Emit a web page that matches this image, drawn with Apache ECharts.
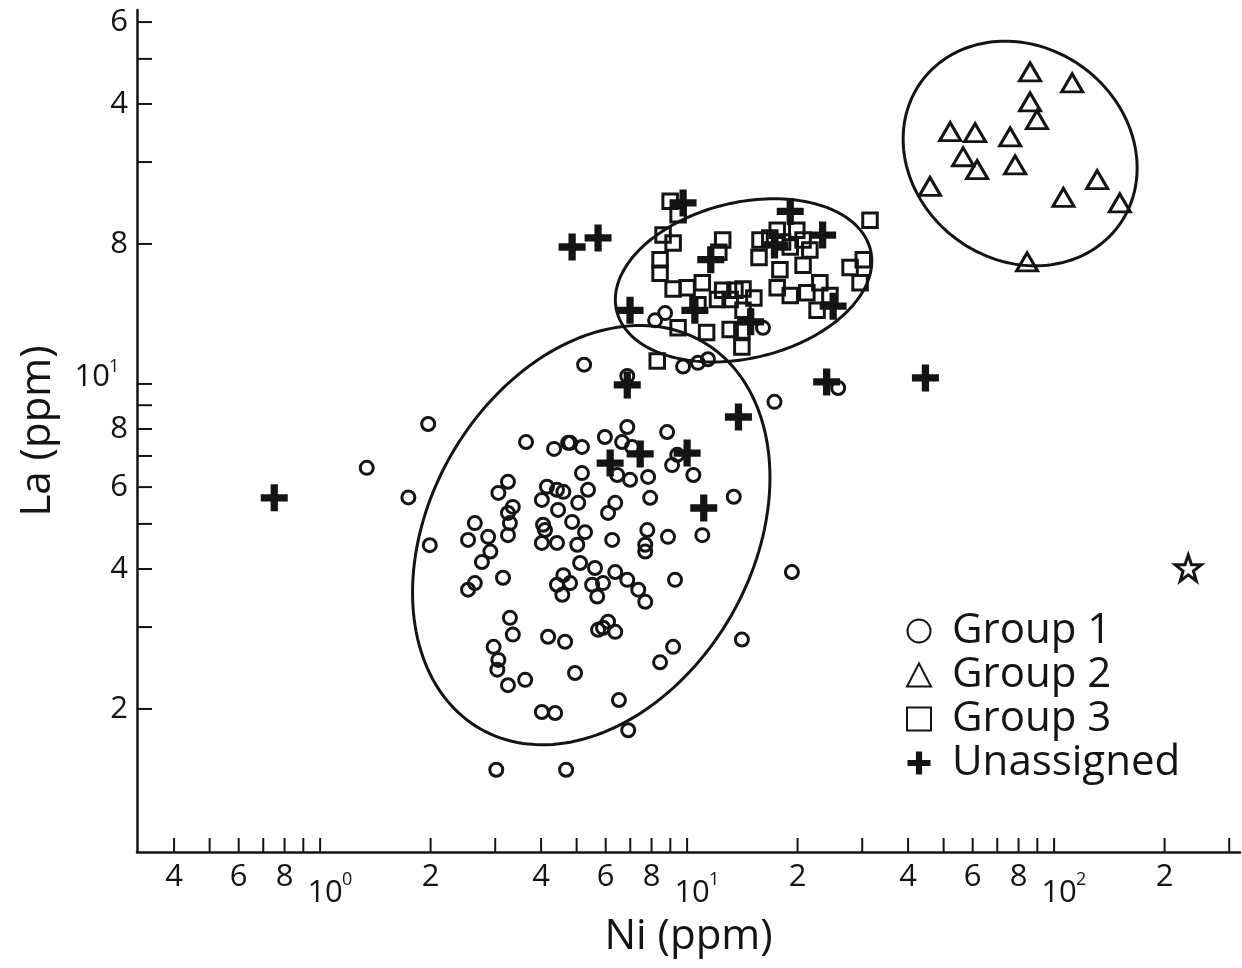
<!DOCTYPE html>
<html>
<head>
<meta charset="utf-8">
<title>La vs Ni</title>
<script src="https://cdn.jsdelivr.net/npm/echarts@6/dist/echarts.min.js"></script>
<style>
  html, body { margin: 0; padding: 0; background: #fff; }
  #chart { width: 1242px; height: 968px; }
</style>
</head>
<body>
<div id="chart"></div>
<script>
// ---- data (Ni ppm, La ppm) ----
const group1Points = [
  [1.97,8.2],[1.34,6.6],[1.74,5.7],[1.99,4.5],[3.02,1.48],[4.68,1.48],[6.91,1.80],[19.3,3.94],
  [14.1,2.82],[17.3,9.15],[25.8,9.8],[13.4,5.72],[5.24,11.0],[6.87,10.4],[8.18,13.7],[8.71,14.2],
  [16.1,13.2],[9.75,10.9],[10.7,11.1],[11.4,11.3],
  [3.64,7.5],[4.34,7.25],[4.74,7.47],[3.25,6.16],[3.06,5.83],[4.15,6.01],[4.42,5.92],[4.60,5.86],
  [4.02,5.63],[3.35,5.44],[3.25,5.28],[3.29,5.02],[3.25,4.73],[4.45,5.36],[2.64,5.02],[2.53,4.62],
  [2.87,4.69],[2.91,4.36],[4.05,4.98],[4.10,4.85],[4.02,4.55],[4.42,4.55],[4.80,7.47],[5.17,7.32],
  [5.97,7.69],[6.65,7.50],[6.87,8.08],[7.08,7.32],[8.82,7.88],[9.40,7.04],[9.10,6.69],[10.4,6.37],
  [6.45,6.37],[6.99,6.22],[7.83,6.31],[5.17,6.43],[5.37,5.92],[5.05,5.55],[7.93,5.69],[6.37,5.55],
  [6.09,5.28],[4.86,5.05],[5.27,4.80],[6.25,4.62],[7.79,4.85],[7.69,4.51],[7.69,4.36],[8.87,4.69],
  [11.0,4.73],[5.02,4.51],[2.76,4.14],[3.15,3.83],[2.64,3.73],[2.53,3.61],[5.11,4.12],[5.61,4.02],
  [4.60,3.88],[4.42,3.70],[4.80,3.73],[4.57,3.52],[5.51,3.70],[5.69,3.49],[3.29,3.14],[3.35,2.89],
  [4.18,2.86],[4.65,2.79],[2.97,2.72],[3.06,2.55],[3.04,2.43],[3.25,2.25],[3.62,2.31],[4.95,2.39],
  [4.02,1.97],[4.37,1.96],[5.72,2.96],[6.37,3.94],[6.87,3.79],[7.36,3.61],[7.69,3.40],[5.90,3.73],
  [9.27,3.79],[5.90,2.99],[6.37,2.93],[6.09,3.08],[9.16,2.72],[8.44,2.52],[6.52,2.09]
];
const group2Points = [
  [86.0,46.9],[112,44.4],[86.0,40.4],[89.8,37.0],[52.1,34.9],[60.9,34.7],[75.9,34.0],[56.5,30.8],
  [61.7,28.9],[78.3,29.6],[45.9,26.6],[131,27.5],[106,25.2],[151,24.5],[84.4,18.3]
];
const group3Points = [
  [8.99,24.7],[9.45,23.1],[31.5,22.5],[8.60,20.9],[9.16,20.1],[12.5,20.4],[12.2,19.2],[8.44,18.5],
  [8.44,17.3],[9.16,16.0],[10.0,16.1],[11.0,16.5],[10.7,14.8],[12.5,15.9],[13.5,15.9],[14.2,16.0],
  [15.2,15.3],[12.1,15.2],[13.1,15.2],[14.2,14.4],[11.3,12.9],[13.1,13.1],[14.1,13.0],[14.1,12.0],
  [9.45,13.2],[8.29,11.2],[15.8,20.4],[16.8,20.6],[17.6,21.4],[18.2,20.2],[19.1,19.7],[19.9,21.4],
  [20.7,20.4],[21.6,19.4],[15.7,18.7],[17.9,17.6],[20.7,18.0],[17.6,16.1],[19.1,15.5],[21.2,15.7],
  [23.0,16.5],[24.5,15.5],[22.6,14.4],[27.8,17.8],[30.2,18.5],[29.6,16.5]
];
const unassignedPoints = [
  [0.75,5.69],[4.86,19.7],[5.72,20.6],[9.75,24.5],[6.99,14.4],[11.6,18.5],[10.5,14.4],[14.9,13.6],
  [19.1,23.5],[23.4,20.9],[25.0,14.7],[24.0,10.1],[44.6,10.3],[6.87,9.95],[13.8,8.49],[7.45,7.07],
  [10.0,7.1],[6.17,6.76],[11.1,5.41],[17.3,19.9]
];
const starPoint = [[232,4.02]];

// group ellipses: centre, end of the major semi-axis, minor/major ratio
const ellipseCenters   = [[5.48,4.73],[14.25,16.7],[80.8,31.3]];
const ellipseMajorEnds = [[11.0,12.34],[31.6,19.4],[150,21.9]];
const ellipseRatios    = [0.723,0.597,0.873];

// axis ticks and their labels ('10^n' = power of ten)
const xTickValues = [0.4,0.5,0.6,0.7,0.8,0.9,1,2,3,4,5,6,7,8,9,10,20,30,40,50,60,70,80,90,100,200,300];
const xTickLabels = ['4','','6','','8','','10^0','2','','4','','6','','8','','10^1','2','','4','','6','','8','','10^2','2',''];
const yTickValues = [2,3,4,5,6,7,8,9,10,20,30,40,50,60];
const yTickLabels = ['2','','4','','6','','8','','10^1','8','','4','','6'];

const X_MIN = 0.317, X_MAX = 321, Y_MIN = 0.985, Y_MAX = 63.7;
const FONT = '"Open Sans", "Liberation Sans", sans-serif';
const INK = '#141414';
const TICK_FS = 31, SUP_FS = 18;

const PLUS = 'path://M9.5,0H16.5V9.5H26V16.5H16.5V26H9.5V16.5H0V9.5H9.5Z';
const STAR = 'path://M12,0L14.9,8.3L23.6,8.3L16.6,13.5L19.2,21.9L12,16.8L4.8,21.9L7.4,13.5L0.4,8.3L9.1,8.3Z';
const HOLLOW = 'rgba(255,255,255,0)';

function textEl(x, y, text, fs, align) {
  return { type: 'text', x: x, y: y, silent: true,
    style: { text: text, fill: INK, fontSize: fs, fontFamily: FONT, align: align, verticalAlign: 'middle' } };
}

function xTickItem(params, api) {
  const p = api.coord([api.value(0), api.value(1)]);
  const lab = xTickLabels[api.value(2)];
  const kids = [{ type: 'line', silent: true,
    shape: { x1: p[0], y1: p[1], x2: p[0], y2: p[1] - 14 },
    style: { stroke: INK, lineWidth: 2 } }];
  if (lab.indexOf('^') >= 0) {
    const parts = lab.split('^');
    kids.push(textEl(p[0] + 5, p[1] + 41, parts[0], TICK_FS, 'center'));
    kids.push(textEl(p[0] + 22, p[1] + 28, parts[1], SUP_FS, 'left'));
  } else if (lab) {
    kids.push(textEl(p[0], p[1] + 25, lab, TICK_FS, 'center'));
  }
  return { type: 'group', children: kids };
}

function yTickItem(params, api) {
  const p = api.coord([api.value(0), api.value(1)]);
  const lab = yTickLabels[api.value(2)];
  const kids = [{ type: 'line', silent: true,
    shape: { x1: p[0], y1: p[1], x2: p[0] + 15, y2: p[1] },
    style: { stroke: INK, lineWidth: 2 } }];
  if (lab.indexOf('^') >= 0) {
    const parts = lab.split('^');
    kids.push(textEl(p[0] - 27, p[1] - 7, parts[0], TICK_FS, 'right'));
    kids.push(textEl(p[0] - 28, p[1] - 17, parts[1], SUP_FS, 'left'));
  } else if (lab) {
    kids.push(textEl(p[0] - 9, p[1], lab, TICK_FS, 'right'));
  }
  return { type: 'group', children: kids };
}

function ellipseItem(params, api) {
  const c = api.coord([api.value(0), api.value(1)]);
  const e = api.coord([api.value(2), api.value(3)]);
  const r = api.value(4);
  const ax = e[0] - c[0], ay = e[1] - c[1];
  const bx = -ay * r, by = ax * r;
  const pts = [];
  for (let k = 0; k < 180; k++) {
    const t = k / 180 * Math.PI * 2;
    pts.push([c[0] + ax * Math.cos(t) + bx * Math.sin(t), c[1] + ay * Math.cos(t) + by * Math.sin(t)]);
  }
  return { type: 'polygon', silent: true, shape: { points: pts },
    style: { fill: 'none', stroke: INK, lineWidth: 3 } };
}

const chart = echarts.init(document.getElementById('chart'), null, { renderer: 'canvas' });

const axisCommon = {
  type: 'log', logBase: 10,
  axisLine: { show: true, onZero: false, lineStyle: { color: INK, width: 2.5 } },
  axisTick: { show: false }, axisLabel: { show: false }, splitLine: { show: false },
  nameLocation: 'middle',
  nameTextStyle: { fontSize: 42, color: INK, fontFamily: FONT }
};

const markerStyle = { color: HOLLOW, borderColor: INK, borderWidth: 3, opacity: 1 };

chart.setOption({
  animation: false,
  backgroundColor: '#fff',
  grid: { left: 137, right: 2, top: 10, bottom: 116, containLabel: false },
  xAxis: Object.assign({}, axisCommon, { min: X_MIN, max: X_MAX, name: 'Ni (ppm)', nameGap: 64 }),
  yAxis: Object.assign({}, axisCommon, { min: Y_MIN, max: Y_MAX, name: 'La (ppm)', nameGap: 78 }),
  legend: {
    data: ['Group 1', 'Group 2', 'Group 3', 'Unassigned'],
    orient: 'vertical', left: 901, top: 604,
    itemWidth: 24, itemHeight: 23, itemGap: 0,
    selectedMode: false,
    textStyle: { fontSize: 42, lineHeight: 44, color: INK, fontFamily: FONT, padding: [0, 0, 0, 16] }
  },
  series: [
    { type: 'custom', name: 'ellipses', coordinateSystem: 'cartesian2d', clip: false, silent: true, z: 3,
      data: ellipseCenters.map((c, i) => [c[0], c[1], ellipseMajorEnds[i][0], ellipseMajorEnds[i][1], ellipseRatios[i]]),
      renderItem: ellipseItem },
    { type: 'scatter', name: 'Group 1', data: group1Points, symbol: 'circle', symbolSize: 13, z: 4,
      itemStyle: markerStyle, emphasis: { disabled: true } },
    { type: 'scatter', name: 'Group 2', data: group2Points, symbol: 'triangle', symbolSize: [21, 18], z: 4,
      itemStyle: markerStyle, emphasis: { disabled: true } },
    { type: 'scatter', name: 'Group 3', data: group3Points, symbol: 'rect', symbolSize: 14.5, z: 4,
      itemStyle: markerStyle, emphasis: { disabled: true } },
    { type: 'scatter', name: 'Unassigned', data: unassignedPoints, symbol: PLUS, symbolSize: 27, z: 5,
      itemStyle: { color: INK, opacity: 1 }, emphasis: { disabled: true } },
    { type: 'scatter', name: 'star', data: starPoint, symbol: STAR, symbolSize: 26, z: 5,
      itemStyle: { color: HOLLOW, borderColor: INK, borderWidth: 3, opacity: 1 }, emphasis: { disabled: true } },
    { type: 'custom', name: 'xticks', coordinateSystem: 'cartesian2d', clip: false, silent: true, z: 6,
      data: xTickValues.map((v, i) => [v, Y_MIN, i]), renderItem: xTickItem },
    { type: 'custom', name: 'yticks', coordinateSystem: 'cartesian2d', clip: false, silent: true, z: 6,
      data: yTickValues.map((v, i) => [X_MIN, v, i]), renderItem: yTickItem }
  ]
});
</script>
</body>
</html>
